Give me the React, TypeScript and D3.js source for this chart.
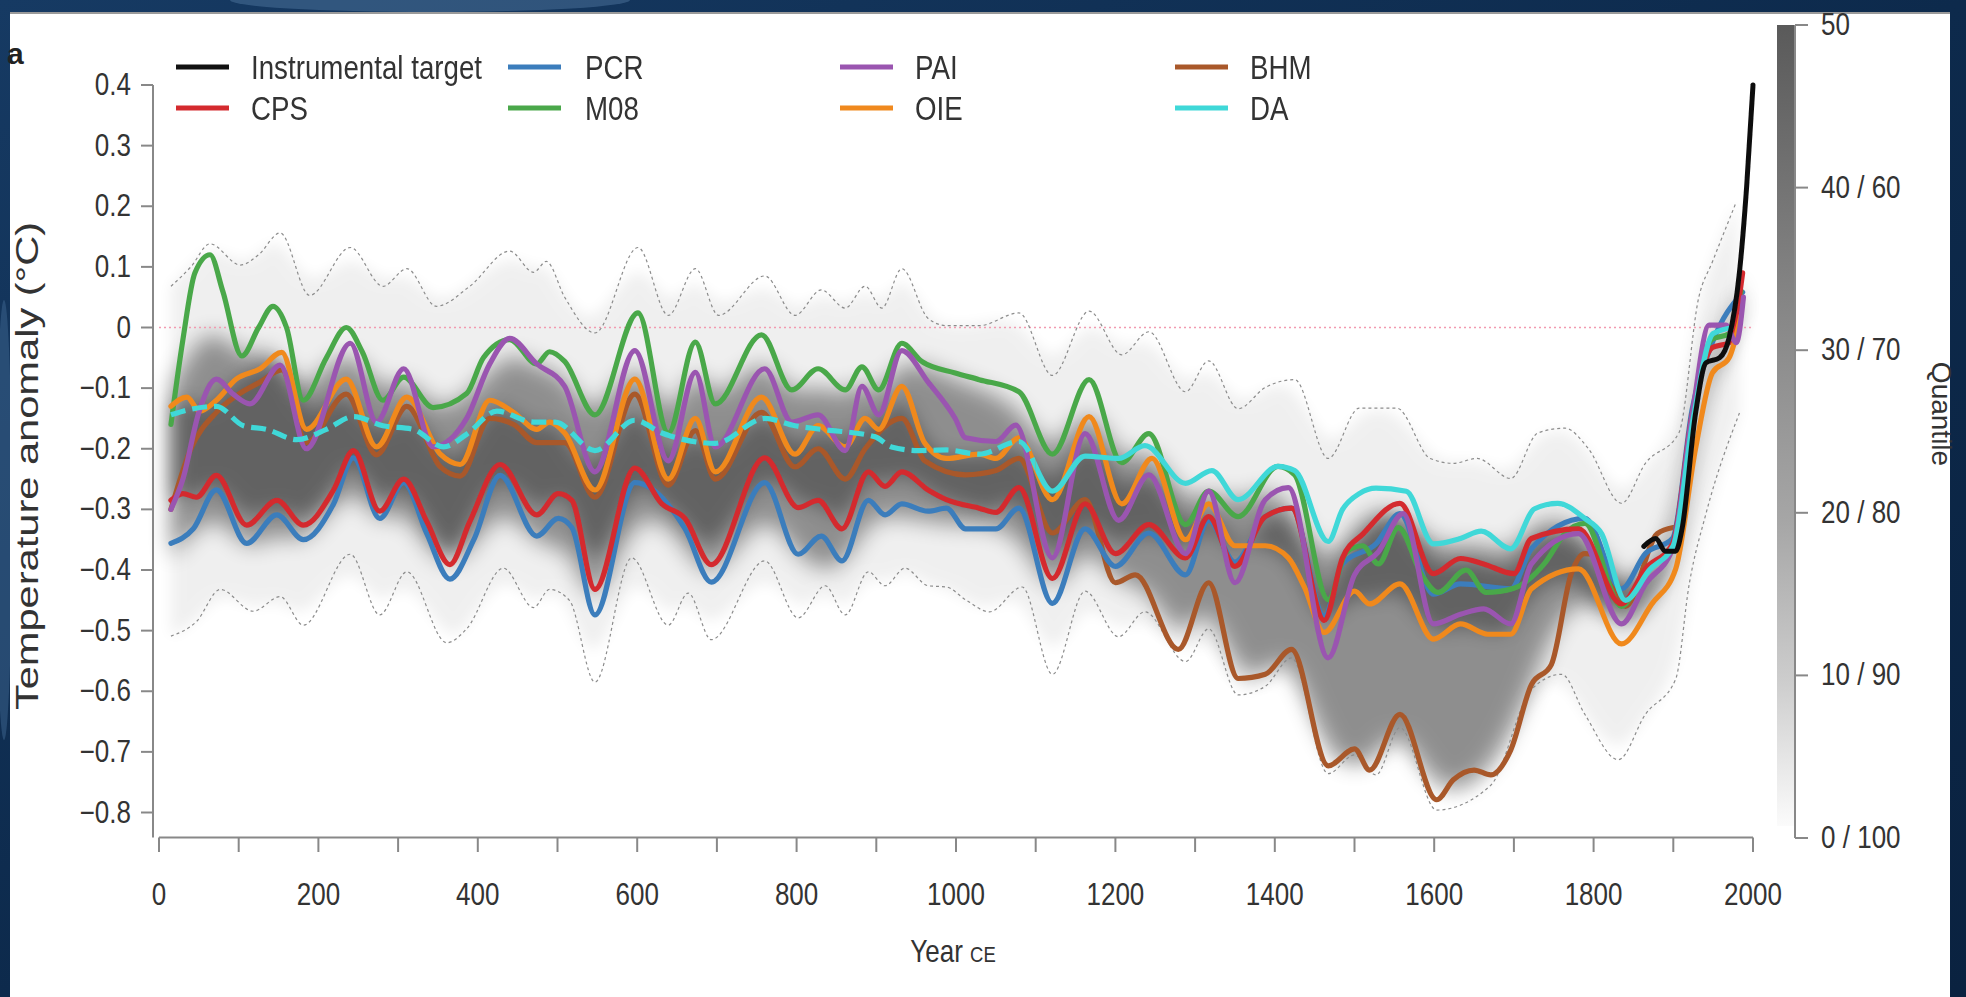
import React from "react";
import * as d3 from "d3";

type Pt = [number, number];

// ---- reconstructions, [year CE, anomaly °C] ----
const instrumental: Pt[] = [
  [1863, -0.361], [1878, -0.348], [1890, -0.369], [1903, -0.369], [1911, -0.332], [1928, -0.141],
  [1941, -0.058], [1958, -0.05], [1970, -0.017], [1983, 0.091], [1992, 0.232], [2000, 0.4],
];

const cps: Pt[] = [
  [15, -0.285], [30, -0.274], [47, -0.28], [72, -0.244], [110, -0.326], [148, -0.285], [181, -0.326],
  [219, -0.268], [244, -0.203], [277, -0.303], [307, -0.25], [336, -0.32], [365, -0.391], [390, -0.32],
  [428, -0.226], [474, -0.309], [501, -0.274], [518, -0.285], [547, -0.432], [597, -0.232], [631, -0.291],
  [660, -0.315], [693, -0.391], [760, -0.215], [802, -0.297], [827, -0.285], [857, -0.332], [890, -0.238],
  [911, -0.262], [932, -0.238], [965, -0.268], [988, -0.284], [1029, -0.298], [1050, -0.305], [1079, -0.264],
  [1121, -0.414], [1162, -0.291], [1200, -0.373], [1242, -0.325], [1288, -0.38], [1317, -0.312], [1350, -0.394],
  [1388, -0.312], [1421, -0.298], [1462, -0.483], [1485, -0.38], [1511, -0.34], [1557, -0.29], [1599, -0.406],
  [1633, -0.381], [1662, -0.39], [1700, -0.406], [1722, -0.348], [1781, -0.332], [1835, -0.456], [1865, -0.398],
  [1899, -0.357], [1924, -0.141], [1949, -0.033], [1970, -0.025], [1987, 0.09],
];

const pcr: Pt[] = [
  [15, -0.356], [43, -0.332], [72, -0.268], [110, -0.356], [148, -0.309], [181, -0.35], [219, -0.291],
  [244, -0.215], [277, -0.315], [307, -0.256], [336, -0.34], [365, -0.415], [395, -0.35], [428, -0.244],
  [474, -0.344], [501, -0.315], [518, -0.33], [547, -0.474], [597, -0.256], [660, -0.332], [693, -0.42],
  [760, -0.256], [802, -0.374], [831, -0.344], [857, -0.385], [890, -0.285], [911, -0.309], [932, -0.291],
  [965, -0.303], [988, -0.298], [1012, -0.332], [1050, -0.332], [1079, -0.298], [1121, -0.455], [1162, -0.332],
  [1200, -0.394], [1242, -0.339], [1288, -0.408], [1317, -0.318], [1350, -0.387], [1388, -0.312], [1421, -0.298],
  [1462, -0.476], [1485, -0.39], [1527, -0.357], [1557, -0.307], [1599, -0.44], [1633, -0.423], [1696, -0.431],
  [1722, -0.365], [1789, -0.315], [1835, -0.431], [1865, -0.373], [1899, -0.348], [1924, -0.133], [1949, -0.025],
  [1987, 0.058],
];

const m08: Pt[] = [
  [15, -0.16], [30, -0.02], [45, 0.09], [64, 0.12], [80, 0.06], [104, -0.047], [125, 0.0], [143, 0.035],
  [160, 0.0], [181, -0.12], [210, -0.05], [235, 0.0], [255, -0.04], [281, -0.12], [307, -0.082], [344, -0.132],
  [386, -0.109], [407, -0.05], [440, -0.02], [474, -0.06], [490, -0.04], [509, -0.056], [547, -0.144],
  [601, 0.024], [639, -0.174], [673, -0.024], [698, -0.126], [756, -0.012], [794, -0.103], [827, -0.068],
  [861, -0.103], [882, -0.065], [903, -0.103], [932, -0.026], [957, -0.056], [999, -0.075], [1029, -0.086],
  [1079, -0.106], [1121, -0.209], [1167, -0.086], [1208, -0.223], [1242, -0.175], [1288, -0.325], [1317, -0.27],
  [1354, -0.312], [1404, -0.229], [1425, -0.243], [1467, -0.449], [1490, -0.37], [1510, -0.36], [1530, -0.39],
  [1555, -0.33], [1585, -0.41], [1605, -0.437], [1640, -0.4], [1665, -0.437], [1700, -0.43], [1738, -0.39],
  [1764, -0.34], [1789, -0.323], [1835, -0.46], [1865, -0.4], [1900, -0.36], [1925, -0.14], [1948, -0.02],
  [1970, -0.01], [1985, 0.06],
];

const pai: Pt[] = [
  [15, -0.3], [30, -0.25], [50, -0.14], [72, -0.085], [93, -0.11], [114, -0.126], [152, -0.062], [185, -0.2],
  [240, -0.026], [273, -0.156], [307, -0.068], [344, -0.197], [386, -0.15], [415, -0.06], [440, -0.018],
  [474, -0.06], [509, -0.097], [547, -0.238], [597, -0.038], [639, -0.22], [673, -0.074], [698, -0.197],
  [760, -0.068], [794, -0.156], [827, -0.144], [861, -0.203], [882, -0.097], [903, -0.144], [932, -0.038],
  [965, -0.09], [999, -0.15], [1012, -0.182], [1050, -0.188], [1075, -0.161], [1121, -0.38], [1162, -0.175],
  [1204, -0.318], [1242, -0.243], [1288, -0.373], [1317, -0.27], [1350, -0.421], [1388, -0.284], [1417, -0.264],
  [1467, -0.545], [1500, -0.408], [1530, -0.37], [1561, -0.307], [1599, -0.489], [1633, -0.473], [1662, -0.464],
  [1696, -0.489], [1722, -0.39], [1781, -0.34], [1835, -0.489], [1865, -0.423], [1899, -0.365], [1924, -0.141],
  [1945, 0.004], [1966, 0.004], [1979, -0.025], [1988, 0.05],
];

const oie: Pt[] = [
  [15, -0.13], [35, -0.115], [51, -0.138], [72, -0.12], [97, -0.085], [127, -0.068], [154, -0.041], [185, -0.168],
  [235, -0.085], [273, -0.197], [311, -0.115], [353, -0.209], [378, -0.226], [415, -0.12], [445, -0.14],
  [474, -0.168], [490, -0.156], [509, -0.174], [547, -0.268], [597, -0.085], [639, -0.25], [673, -0.15],
  [698, -0.238], [756, -0.115], [798, -0.209], [827, -0.162], [861, -0.197], [886, -0.15], [903, -0.168],
  [932, -0.097], [961, -0.191], [988, -0.216], [1029, -0.209], [1050, -0.216], [1079, -0.182], [1121, -0.284],
  [1167, -0.147], [1208, -0.291], [1246, -0.216], [1288, -0.35], [1317, -0.291], [1350, -0.36], [1388, -0.36],
  [1417, -0.38], [1437, -0.428], [1462, -0.503], [1500, -0.435], [1519, -0.456], [1557, -0.423], [1599, -0.514],
  [1633, -0.489], [1667, -0.506], [1696, -0.506], [1722, -0.431], [1781, -0.398], [1835, -0.522], [1873, -0.456],
  [1903, -0.398], [1928, -0.199], [1949, -0.075], [1970, -0.05], [1985, 0.02],
];

const bhm: Pt[] = [
  [15, -0.3], [40, -0.2], [72, -0.14], [100, -0.11], [127, -0.09], [154, -0.07], [185, -0.19], [235, -0.11],
  [273, -0.21], [311, -0.13], [353, -0.23], [378, -0.245], [415, -0.15], [445, -0.16], [474, -0.19], [509, -0.19],
  [547, -0.28], [597, -0.11], [639, -0.26], [673, -0.17], [698, -0.25], [756, -0.14], [798, -0.23], [827, -0.2],
  [861, -0.25], [886, -0.2], [932, -0.15], [961, -0.22], [1012, -0.243], [1050, -0.236], [1079, -0.216],
  [1121, -0.339], [1162, -0.284], [1200, -0.421], [1225, -0.408], [1279, -0.531], [1317, -0.421], [1354, -0.579],
  [1388, -0.572], [1421, -0.531], [1467, -0.723], [1500, -0.695], [1519, -0.73], [1557, -0.638], [1603, -0.779],
  [1624, -0.746], [1650, -0.73], [1671, -0.738], [1696, -0.697], [1722, -0.589], [1747, -0.556], [1772, -0.406],
  [1789, -0.373], [1810, -0.38], [1840, -0.46], [1880, -0.34], [1900, -0.33],
];

const da: Pt[] = [
  [15, -0.144], [30, -0.138], [72, -0.13], [106, -0.162], [135, -0.168], [173, -0.185], [210, -0.168],
  [244, -0.147], [281, -0.162], [319, -0.168], [357, -0.197], [386, -0.176], [424, -0.138], [470, -0.156],
  [497, -0.156], [547, -0.203], [597, -0.153], [631, -0.174], [698, -0.191], [760, -0.15], [798, -0.162],
  [831, -0.168], [898, -0.18], [919, -0.197], [953, -0.203], [988, -0.202], [1029, -0.209], [1079, -0.188],
  [1121, -0.27], [1162, -0.212], [1204, -0.216], [1237, -0.195], [1288, -0.257], [1321, -0.236], [1354, -0.284],
  [1404, -0.229], [1425, -0.236], [1467, -0.353], [1485, -0.3], [1506, -0.274], [1527, -0.265], [1565, -0.27],
  [1599, -0.357], [1633, -0.348], [1659, -0.336], [1696, -0.365], [1726, -0.299], [1755, -0.29], [1789, -0.315],
  [1810, -0.34], [1840, -0.45], [1870, -0.4], [1900, -0.36], [1925, -0.15], [1950, -0.01], [1975, 0.0],
];

// ---- ensemble envelope (dotted) and the dense part of the quantile shading ----
const upperBound: Pt[] = [
  [15, 0.068], [40, 0.1], [64, 0.138], [102, 0.103], [125, 0.12], [152, 0.156], [189, 0.053], [240, 0.132],
  [281, 0.068], [311, 0.097], [348, 0.035], [390, 0.068], [440, 0.126], [470, 0.091], [486, 0.109], [509, 0.05],
  [547, -0.009], [601, 0.132], [639, 0.02], [673, 0.097], [702, 0.02], [760, 0.085], [798, 0.02], [831, 0.062],
  [861, 0.032], [886, 0.068], [907, 0.032], [932, 0.097], [965, 0.015], [988, 0.003], [1029, 0.003], [1079, 0.024],
  [1121, -0.079], [1167, 0.027], [1208, -0.045], [1242, -0.007], [1288, -0.106], [1317, -0.055], [1354, -0.134],
  [1388, -0.099], [1425, -0.086], [1467, -0.216], [1506, -0.133], [1553, -0.133], [1595, -0.216], [1624, -0.224],
  [1654, -0.216], [1696, -0.249], [1730, -0.174], [1764, -0.166], [1793, -0.199], [1835, -0.29], [1865, -0.224],
  [1907, -0.174], [1932, 0.05], [1949, 0.108], [1979, 0.207],
];

const lowerBound: Pt[] = [
  [15, -0.509], [47, -0.485], [77, -0.432], [118, -0.468], [152, -0.444], [181, -0.491], [240, -0.374],
  [277, -0.474], [311, -0.403], [361, -0.52], [386, -0.497], [432, -0.397], [470, -0.462], [490, -0.432],
  [515, -0.45], [547, -0.585], [593, -0.38], [639, -0.491], [664, -0.438], [693, -0.515], [760, -0.385],
  [802, -0.479], [836, -0.426], [861, -0.474], [890, -0.403], [911, -0.426], [936, -0.397], [965, -0.426],
  [988, -0.428], [1012, -0.449], [1042, -0.469], [1083, -0.428], [1121, -0.572], [1162, -0.435], [1204, -0.51],
  [1237, -0.469], [1288, -0.551], [1317, -0.497], [1354, -0.606], [1388, -0.592], [1421, -0.545], [1467, -0.736],
  [1500, -0.705], [1527, -0.738], [1557, -0.66], [1603, -0.796], [1671, -0.755], [1722, -0.597], [1760, -0.572],
  [1789, -0.638], [1831, -0.713], [1865, -0.638], [1903, -0.58], [1920, -0.423], [1941, -0.307], [1983, -0.141],
];

const coreUpper: Pt[] = [
  [15, -0.1], [64, 0.02], [104, -0.06], [143, -0.02], [181, -0.13], [235, -0.01], [281, -0.12], [307, -0.07],
  [344, -0.14], [386, -0.12], [440, -0.03], [474, -0.07], [509, -0.07], [547, -0.17], [601, -0.02], [639, -0.18],
  [673, -0.04], [698, -0.14], [756, -0.03], [794, -0.12], [827, -0.09], [861, -0.12], [882, -0.08], [903, -0.12],
  [932, -0.04], [999, -0.09], [1079, -0.12], [1121, -0.23], [1167, -0.1], [1208, -0.24], [1242, -0.18],
  [1288, -0.3], [1317, -0.26], [1354, -0.3], [1404, -0.24], [1467, -0.42], [1500, -0.31], [1560, -0.29],
  [1599, -0.37], [1654, -0.35], [1696, -0.38], [1726, -0.31], [1789, -0.32], [1838, -0.45], [1900, -0.36],
  [1925, -0.15], [1950, -0.01], [1985, 0.05],
];

const coreLower: Pt[] = [
  [15, -0.38], [72, -0.29], [110, -0.38], [148, -0.33], [181, -0.37], [244, -0.24], [277, -0.34], [307, -0.28],
  [365, -0.44], [428, -0.27], [474, -0.37], [518, -0.35], [547, -0.5], [597, -0.28], [660, -0.35], [693, -0.44],
  [760, -0.28], [802, -0.39], [857, -0.41], [890, -0.31], [932, -0.31], [1000, -0.33], [1079, -0.32], [1121, -0.47],
  [1162, -0.34], [1200, -0.43], [1242, -0.42], [1279, -0.53], [1317, -0.44], [1354, -0.58], [1388, -0.57],
  [1421, -0.53], [1467, -0.72], [1519, -0.73], [1557, -0.64], [1603, -0.78], [1671, -0.74], [1722, -0.59],
  [1772, -0.42], [1838, -0.5], [1900, -0.38], [1925, -0.16], [1950, -0.04], [1985, 0.04],
];

// ---- axes ----
const yTickValues = [0.4, 0.3, 0.2, 0.1, 0, -0.1, -0.2, -0.3, -0.4, -0.5, -0.6, -0.7, -0.8];
const xTickValues = [0, 100, 200, 300, 400, 500, 600, 700, 800, 900, 1000, 1100, 1200, 1300, 1400, 1500, 1600, 1700, 1800, 1900, 2000];
const xLabelValues = [0, 200, 400, 600, 800, 1000, 1200, 1400, 1600, 1800, 2000];
const quantileTicks = [0, 10, 20, 30, 40, 50];
const quantileLabels = ["0 / 100", "10 / 90", "20 / 80", "30 / 70", "40 / 60", "50"];

const legendNames = ["Instrumental target", "CPS", "PCR", "M08", "PAI", "OIE", "BHM", "DA"];
const legendColors = ["#111111", "#d42a2e", "#3b7dbc", "#4aa84a", "#9a55b0", "#f0891e", "#a9582a", "#3fd8d8"];

const W = 1966;
const H = 997;
const FONT = "'Liberation Sans', Arial, Helvetica, sans-serif";

const x = d3.scaleLinear().domain([0, 2000]).range([159, 1753]);
const y = d3.scaleLinear().domain([0.4, -0.8]).range([85, 812.5]);
const qy = d3.scaleLinear().domain([0, 50]).range([838, 25]);

const line = d3.line<Pt>().x((d) => x(d[0])).y((d) => y(d[1])).curve(d3.curveMonotoneX);
const soft = d3.line<Pt>().x((d) => x(d[0])).y((d) => y(d[1])).curve(d3.curveBasis);

function band(top: Pt[], bottom: Pt[]) {
  const a = soft(top) as string;
  const b = soft(bottom.slice().reverse()) as string;
  return a + "L" + b.slice(1) + "Z";
}

const colorOf = (name: string) => legendColors[legendNames.indexOf(name)];

// draw order (later on top)
const drawn: { name: string; data: Pt[] }[] = [
  { name: "BHM", data: bhm },
  { name: "PCR", data: pcr },
  { name: "M08", data: m08 },
  { name: "CPS", data: cps },
  { name: "OIE", data: oie },
  { name: "PAI", data: pai },
];

const yFmt = d3.format(".1f");

function Txt(props: { x: number; y: number; size: number; anchor?: string; sx?: number; fill?: string; children: React.ReactNode }) {
  const { x: tx, y: ty, size, anchor = "start", sx = 0.84, fill = "#333", children } = props;
  return (
    <text transform={`translate(${tx},${ty}) scale(${sx},1)`} fontSize={size} textAnchor={anchor} fill={fill}>
      {children}
    </text>
  );
}

export default function App() {
  const legendCols = [
    { lx: 176, tx: 251 },
    { lx: 508, tx: 585 },
    { lx: 840, tx: 915 },
    { lx: 1175, tx: 1250 },
  ];
  const legendRows = [67, 108];

  return (
    <svg width={W} height={H} style={{ position: "absolute", left: 0, top: 0, display: "block" }} fontFamily={FONT}>
      <defs>
        <linearGradient id="bg" x1="0" y1="0" x2="1" y2="1">
          <stop offset="0" stopColor="#163a63" />
          <stop offset="0.5" stopColor="#0d2a4c" />
          <stop offset="1" stopColor="#0a2240" />
        </linearGradient>
        <linearGradient id="cbar" x1="0" y1="0" x2="0" y2="1">
          <stop offset="0" stopColor="#5a5a5a" />
          <stop offset="0.35" stopColor="#868686" />
          <stop offset="0.62" stopColor="#a6a6a6" />
          <stop offset="0.82" stopColor="#cdcdcd" />
          <stop offset="1" stopColor="#fbfbfb" />
        </linearGradient>
        <filter id="blurWide" x="-5%" y="-30%" width="110%" height="160%">
          <feGaussianBlur stdDeviation="7" />
        </filter>
        <filter id="blurCore" x="-5%" y="-30%" width="110%" height="160%">
          <feGaussianBlur stdDeviation="11" />
        </filter>
        <filter id="blurInner" x="-5%" y="-30%" width="110%" height="160%">
          <feGaussianBlur stdDeviation="9" />
        </filter>
        <filter id="soften" x="-2%" y="-5%" width="104%" height="110%">
          <feGaussianBlur stdDeviation="0.6" />
        </filter>
        <clipPath id="daEarly">
          <rect x={0} y={0} width={x(1100)} height={H} />
        </clipPath>
        <clipPath id="daLate">
          <rect x={x(1100)} y={0} width={W - x(1100)} height={H} />
        </clipPath>
      </defs>

      {/* slide background and white figure panel */}
      <rect width={W} height={H} fill="url(#bg)" />
      <ellipse cx={430} cy={0} rx={200} ry={12} fill="#5d84ad" opacity={0.4} />
      <ellipse cx={4} cy={520} rx={8} ry={220} fill="#3d6590" opacity={0.5} />
      <rect x={10} y={12} width={1940} height={H - 12} fill="#ffffff" />
      <rect x={10} y={12} width={1940} height={2} fill="#9a9a9a" />

      <text x={7} y={64} fontSize={30} fontWeight="bold" fill="#222">a</text>

      {/* quantile shading */}
      <path d={band(upperBound, lowerBound)} fill="#000" opacity={0.06} filter="url(#blurWide)" />
      <path d={band(coreUpper, coreLower)} fill="#000" opacity={0.4} filter="url(#blurCore)" />
      <path d={band(oie, cps)} fill="#000" opacity={0.3} filter="url(#blurInner)" />

      {/* zero line */}
      <line x1={x(0)} x2={x(2000)} y1={y(0)} y2={y(0)} stroke="#f29ab0" strokeWidth={1.6} strokeDasharray="2,3" />

      {/* envelope */}
      <path d={line(upperBound) as string} fill="none" stroke="#8c8c8c" strokeWidth={1.2} strokeDasharray="3,3" />
      <path d={line(lowerBound) as string} fill="none" stroke="#8c8c8c" strokeWidth={1.2} strokeDasharray="3,3" />

      {/* reconstructions */}
      <g filter="url(#soften)">
        {drawn.map((s) => (
          <path key={s.name} d={line(s.data) as string} fill="none" stroke={colorOf(s.name)} strokeWidth={5.2} strokeLinejoin="round" strokeLinecap="round" />
        ))}
        <path d={line(da) as string} fill="none" stroke={colorOf("DA")} strokeWidth={5.2} strokeDasharray="15,7" clipPath="url(#daEarly)" />
        <path d={line(da) as string} fill="none" stroke={colorOf("DA")} strokeWidth={5.2} strokeLinejoin="round" clipPath="url(#daLate)" />
        <path d={line(instrumental) as string} fill="none" stroke={colorOf("Instrumental target")} strokeWidth={5} strokeLinejoin="round" strokeLinecap="round" />
      </g>

      {/* y axis */}
      <line x1={153} x2={153} y1={y(0.4)} y2={837.5} stroke="#888" strokeWidth={2} />
      {yTickValues.map((v) => (
        <g key={v}>
          <line x1={141} x2={153} y1={y(v)} y2={y(v)} stroke="#888" strokeWidth={2} />
          <Txt x={131} y={y(v) + 10} size={31} anchor="end">{v === 0 ? "0" : yFmt(v)}</Txt>
        </g>
      ))}
      <g transform={`translate(38,466) rotate(-90) scale(1.3,1)`}>
        <text fontSize={32} textAnchor="middle" fill="#333">Temperature anomaly (°C)</text>
      </g>

      {/* x axis */}
      <line x1={x(0)} x2={x(2000)} y1={837.5} y2={837.5} stroke="#888" strokeWidth={2} />
      {xTickValues.map((t) => (
        <line key={t} x1={x(t)} x2={x(t)} y1={837.5} y2={852} stroke="#888" strokeWidth={2} />
      ))}
      {xLabelValues.map((t) => (
        <Txt key={t} x={x(t)} y={905} size={31} anchor="middle">{String(t)}</Txt>
      ))}
      <Txt x={953} y={962} size={31} anchor="middle">
        Year <tspan fontSize={22}>CE</tspan>
      </Txt>

      {/* legend */}
      {legendNames.map((name, i) => {
        const col = legendCols[Math.floor(i / 2)];
        const ry = legendRows[i % 2];
        return (
          <g key={name}>
            <line x1={col.lx} x2={col.lx + 53} y1={ry} y2={ry} stroke={legendColors[i]} strokeWidth={5} />
            <Txt x={col.tx} y={ry + 12} size={33}>{name}</Txt>
          </g>
        );
      })}

      {/* quantile colour bar */}
      <rect x={1777} y={qy(50)} width={17} height={qy(0) - qy(50) - 12} fill="url(#cbar)" />
      <line x1={1795} x2={1795} y1={qy(50)} y2={qy(0)} stroke="#888" strokeWidth={2} />
      {quantileTicks.map((t, i) => (
        <g key={t}>
          <line x1={1795} x2={1808} y1={qy(t)} y2={qy(t)} stroke="#888" strokeWidth={2} />
          <Txt x={1821} y={qy(t) + 10} size={31}>{quantileLabels[i]}</Txt>
        </g>
      ))}
      <g transform="translate(1932,414) rotate(90)">
        <text fontSize={28} textAnchor="middle" fill="#333">Quantile</text>
      </g>
    </svg>
  );
}
